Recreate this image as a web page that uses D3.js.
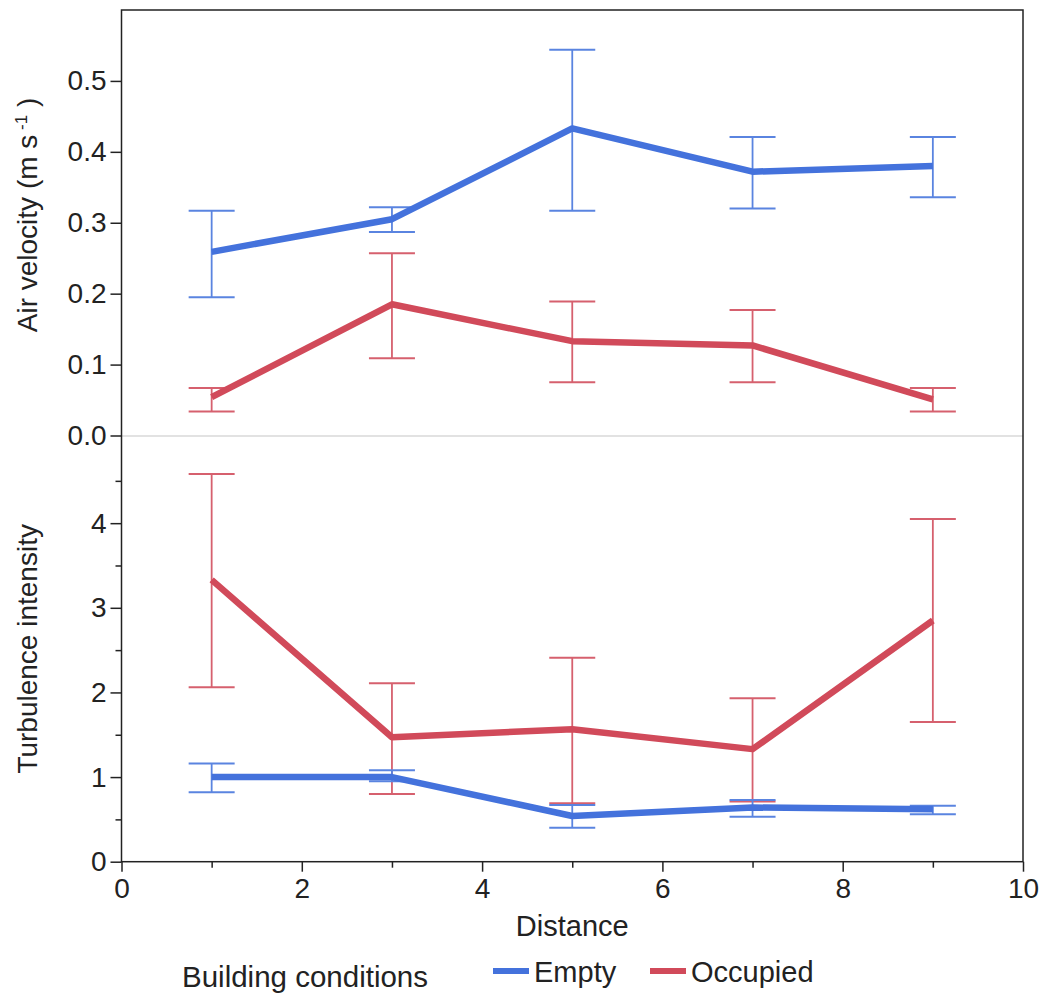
<!DOCTYPE html>
<html>
<head>
<meta charset="utf-8">
<script src="https://cdn.jsdelivr.net/npm/d3@7"></script>
<style>
  body { margin: 0; background: #fff; }
  svg { display: block; font-family: "Liberation Sans", Arial, sans-serif; }
</style>
</head>
<body>
<svg id="chart" width="1043" height="997"></svg>
<script>
// ---- data ----
const distance = [1, 3, 5, 7, 9];
const seriesNames = ["Empty", "Occupied"];

const velEmpty   = [0.259, 0.305, 0.433, 0.372, 0.380];
const velEmptyLo = [0.195, 0.287, 0.317, 0.320, 0.336];
const velEmptyHi = [0.317, 0.322, 0.544, 0.421, 0.421];

const velOcc     = [0.054, 0.185, 0.133, 0.127, 0.051];
const velOccLo   = [0.034, 0.109, 0.075, 0.075, 0.034];
const velOccHi   = [0.067, 0.257, 0.189, 0.177, 0.067];

const turbEmpty   = [1.00, 1.00, 0.54, 0.64, 0.62];
const turbEmptyLo = [0.82, 0.95, 0.40, 0.53, 0.56];
const turbEmptyHi = [1.16, 1.08, 0.67, 0.73, 0.66];

const turbOcc     = [3.33, 1.47, 1.565, 1.33, 2.85];
const turbOccLo   = [2.06, 0.80, 0.69, 0.71, 1.65];
const turbOccHi   = [4.58, 2.11, 2.41, 1.93, 4.05];

const xTicks = [0, 2, 4, 6, 8, 10];
const xMinorTicks = [1, 3, 5, 7, 9];
const velTicks = [0, 0.1, 0.2, 0.3, 0.4, 0.5];
const turbTicks = [0, 1, 2, 3, 4];
const turbMinorTicks = [0.5, 1.5, 2.5, 3.5, 4.5];

// ---- layout ----
const colors = { Empty: "#4472dc", Occupied: "#d14a5a" };
const barColors = { Empty: "#5a84e0", Occupied: "#d6606e" };
const pLeft = 121.5, pRight = 1023, pTop = 10, pMid = 436, pBottom = 861.7;
const textColor = "#222";

const svg = d3.select("#chart");

const x = d3.scaleLinear().domain([0, 10]).range([pLeft, pRight]);
const yTop = d3.scaleLinear().domain([0, 0.6]).range([435.5, pTop]);
const yBot = d3.scaleLinear().domain([0, 5.03]).range([pBottom, pMid]);

// divider
svg.append("line")
  .attr("x1", pLeft).attr("x2", pRight).attr("y1", pMid).attr("y2", pMid)
  .attr("stroke", "#e2e2e2").attr("stroke-width", 2);

// frame
svg.append("rect")
  .attr("x", pLeft).attr("y", pTop).attr("width", pRight - pLeft).attr("height", pBottom - pTop)
  .attr("fill", "none").attr("stroke", "#222").attr("stroke-width", 1.5);

function styleAxis(g) {
  g.select(".domain").remove();
  g.selectAll(".tick line").attr("stroke", "#222").attr("stroke-width", 1.5);
  g.selectAll(".tick text").attr("fill", textColor).style("font-size", "28px")
    .style("font-family", "'Liberation Sans', Arial, sans-serif");
}

// x axis
const gx = svg.append("g").attr("transform", `translate(0,${pBottom})`)
  .call(d3.axisBottom(x).tickValues(xTicks).tickFormat(d3.format("d")).tickSize(10).tickPadding(6));
styleAxis(gx);
const gxm = svg.append("g").attr("transform", `translate(0,${pBottom})`)
  .call(d3.axisBottom(x).tickValues(xMinorTicks).tickFormat("").tickSize(6));
styleAxis(gxm);

// top y axis
const gyt = svg.append("g").attr("transform", `translate(${pLeft},0)`)
  .call(d3.axisLeft(yTop).tickValues(velTicks).tickFormat(d3.format(".1f")).tickSize(11).tickPadding(4));
styleAxis(gyt);

// bottom y axis
const gyb = svg.append("g").attr("transform", `translate(${pLeft},0)`)
  .call(d3.axisLeft(yBot).tickValues(turbTicks).tickFormat(d3.format("d")).tickSize(11).tickPadding(4));
styleAxis(gyb);
const gybm = svg.append("g").attr("transform", `translate(${pLeft},0)`)
  .call(d3.axisLeft(yBot).tickValues(turbMinorTicks).tickFormat("").tickSize(6));
styleAxis(gybm);

// series drawing
function drawSeries(yScale, name, vals, lo, hi) {
  const g = svg.append("g");
  const capHalf = 23;
  distance.forEach((d, i) => {
    const cx = x(d);
    g.append("line").attr("x1", cx).attr("x2", cx)
      .attr("y1", yScale(lo[i])).attr("y2", yScale(hi[i]))
      .attr("stroke", barColors[name]).attr("stroke-width", 1.8);
    [lo[i], hi[i]].forEach(v => {
      g.append("line").attr("x1", cx - capHalf).attr("x2", cx + capHalf)
        .attr("y1", yScale(v)).attr("y2", yScale(v))
        .attr("stroke", barColors[name]).attr("stroke-width", 2);
    });
  });
  const line = d3.line().x((d, i) => x(distance[i])).y(d => yScale(d));
  g.append("path").datum(vals).attr("d", line)
    .attr("fill", "none").attr("stroke", colors[name]).attr("stroke-width", 6.5)
    .attr("stroke-linejoin", "round");
}

drawSeries(yTop, "Occupied", velOcc, velOccLo, velOccHi);
drawSeries(yTop, "Empty", velEmpty, velEmptyLo, velEmptyHi);
drawSeries(yBot, "Occupied", turbOcc, turbOccLo, turbOccHi);
drawSeries(yBot, "Empty", turbEmpty, turbEmptyLo, turbEmptyHi);

// axis titles
svg.append("text").attr("x", (pLeft + pRight) / 2).attr("y", 936)
  .attr("text-anchor", "middle").attr("fill", textColor).style("font-size", "29px")
  .text("Distance");

const t1 = svg.append("text")
  .attr("transform", `translate(37,${(pTop + pMid) / 2 - 8}) rotate(-90)`)
  .attr("text-anchor", "middle").attr("fill", textColor).style("font-size", "28px");
t1.append("tspan").text("Air velocity (m s");
t1.append("tspan").attr("dy", -10).style("font-size", "17px").text(" -1");
t1.append("tspan").attr("dy", 10).text(" )");

svg.append("text")
  .attr("transform", `translate(37,${(pMid + pBottom) / 2}) rotate(-90)`)
  .attr("text-anchor", "middle").attr("fill", textColor).style("font-size", "28px")
  .text("Turbulence intensity");

// legend
svg.append("text").attr("x", 182).attr("y", 986.5)
  .attr("fill", textColor).style("font-size", "29.5px").text("Building conditions");

const legendX = [493, 650];
seriesNames.forEach((name, i) => {
  svg.append("line").attr("x1", legendX[i]).attr("x2", legendX[i] + 36)
    .attr("y1", 971).attr("y2", 971)
    .attr("stroke", colors[name]).attr("stroke-width", 6);
  svg.append("text").attr("x", legendX[i] + 41).attr("y", 981.5)
    .attr("fill", textColor).style("font-size", "29px").text(name);
});
</script>
</body>
</html>
